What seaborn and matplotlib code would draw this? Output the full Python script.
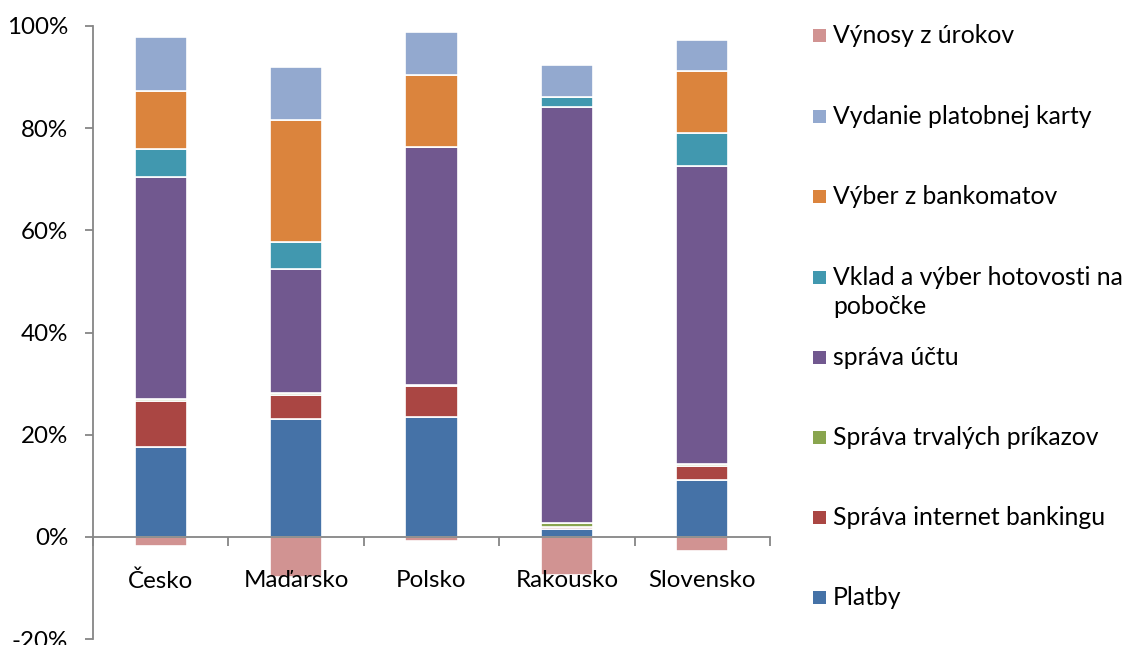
import matplotlib
matplotlib.use("Agg")
import matplotlib.pyplot as plt
from matplotlib.patches import Rectangle
from matplotlib.ticker import FuncFormatter, FixedLocator
import seaborn as sns

countries = ["Česko", "Maďarsko", "Polsko", "Rakousko", "Slovensko"]

platby = [17.6, 23.1, 23.5, 1.5, 11.2]
internet = [9.0, 4.7, 6.0, 0.5, 2.6]
trvale = [0.4, 0.3, 0.3, 0.8, 0.4]
sprava = [43.5, 24.3, 46.5, 81.4, 58.4]
vklad = [5.5, 5.3, 0.0, 1.9, 6.4]
vyber = [11.2, 23.9, 14.2, 0.0, 12.1]
vydanie = [10.7, 10.4, 8.4, 6.3, 6.2]
vynosy = [-1.8, -7.9, -0.9, -7.4, -2.7]

series_names = [
    "Platby",
    "Správa internet bankingu",
    "Správa trvalých príkazov",
    "správa účtu",
    "Vklad a výber hotovosti na\npobočke",
    "Výber z bankomatov",
    "Vydanie platobnej karty",
]
series_vals = [platby, internet, trvale, sprava, vklad, vyber, vydanie]
series_colors = ["#4572A7", "#AA4643", "#89A54E", "#71588F", "#4198AF", "#DB843D", "#93A9CF"]
neg_name = "Výnosy z úrokov"
neg_color = "#D19392"

sns.set_theme(style="white")
plt.rcParams["font.family"] = ["Lato", "DejaVu Sans"]
FS = 17.4
LFS = 17.8

W, H = 1123, 645
fig = plt.figure(figsize=(W / 100, H / 100), dpi=100)
ax = fig.add_axes([93 / W, 6 / H, 677 / W, 613 / H])

bottom = [0.0] * len(countries)
for name, vals, col in zip(series_names, series_vals, series_colors):
    v = [x / 100 for x in vals]
    sns.barplot(x=countries, y=v, bottom=bottom, order=countries, color=col,
                width=0.385, edgecolor="white", linewidth=1.2, errorbar=None,
                saturation=1, ax=ax)
    bottom = [b + x for b, x in zip(bottom, v)]

sns.barplot(x=countries, y=[x / 100 for x in vynosy], order=countries, color=neg_color,
            width=0.385, edgecolor="white", linewidth=1.2, errorbar=None,
            saturation=1, ax=ax)

ax.set_axisbelow(False)
ax.set_xlim(-0.5, len(countries) - 0.5)
ax.set_ylim(-0.2, 1.0)
ax.set_yticks([-0.2, 0, 0.2, 0.4, 0.6, 0.8, 1.0])
ax.yaxis.set_major_formatter(FuncFormatter(lambda v, p: f"{v*100:.0f}%"))
ax.set_xlabel("")
ax.set_ylabel("")

gray = "#868686"
for s in ["top", "right"]:
    ax.spines[s].set_visible(False)
ax.spines["left"].set_color(gray)
ax.spines["left"].set_linewidth(1.3)
ax.spines["bottom"].set_color(gray)
ax.spines["bottom"].set_linewidth(1.3)
ax.spines["bottom"].set_position(("data", 0))

ax.tick_params(axis="y", direction="out", length=6, width=1.3, color=gray,
               pad=12, labelsize=FS, labelcolor="black", left=True)
ax.tick_params(axis="x", which="major", length=0, pad=24, labelsize=FS, labelcolor="black")
ax.xaxis.set_minor_locator(FixedLocator([i - 0.5 for i in range(len(countries) + 1)]))
ax.tick_params(axis="x", which="minor", direction="out", length=6.5, width=1.3,
               color=gray, bottom=True)
ax.grid(False)

# legend (top to bottom)
leg_names = [neg_name] + series_names[::-1]
leg_colors = [neg_color] + series_colors[::-1]
baselines = [43, 124, 204, 285, 365, 445, 525, 605]
for name, col, by in zip(leg_names, leg_colors, baselines):
    fig.patches.append(Rectangle((813 / W, 1 - (by - 1) / H), 13 / W, 13 / H,
                                 transform=fig.transFigure, facecolor=col,
                                 edgecolor="none", figure=fig))
    last_by = by + 29 * name.count("\n")
    fig.text(833 / W, 1 - last_by / H, name, fontsize=LFS, va="baseline", ha="left",
             color="black", linespacing=1.3)

fig.savefig("out.png", dpi=100)
